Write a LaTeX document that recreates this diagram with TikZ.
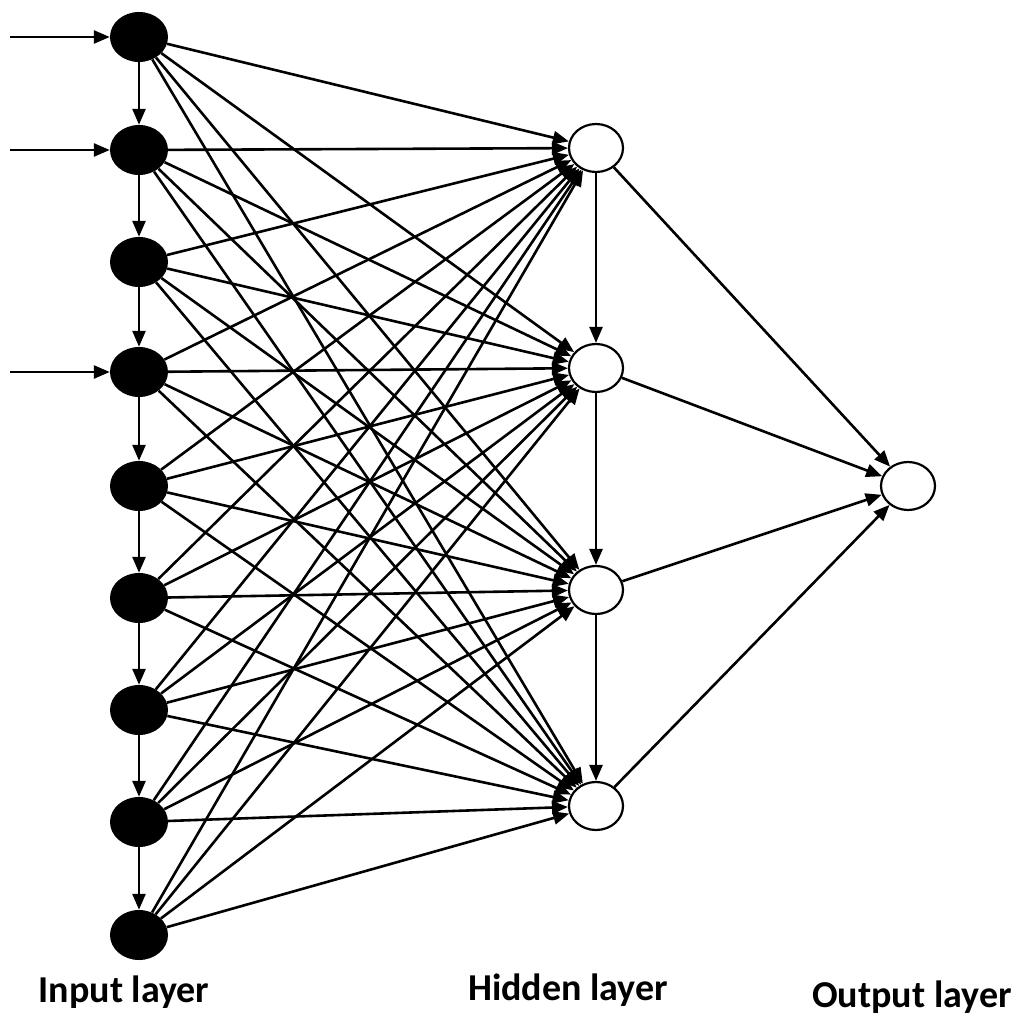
\documentclass[tikz,border=0pt]{standalone}
\usetikzlibrary{arrows.meta,shapes.geometric}
\usepackage{fontspec}
\setmainfont{Carlito}
\begin{document}
\begin{tikzpicture}[x=1pt,y=-1pt,
 inp/.style={ellipse,fill=black,minimum width=58pt,minimum height=50pt,inner sep=0},
 hid/.style={ellipse,draw,line width=2.2pt,fill=white,minimum width=54pt,minimum height=48pt,inner sep=0},
 arr/.style={line width=2.6pt,-{Triangle[length=16pt,width=13pt]}},
 lab/.style={font=\bfseries\fontsize{38}{44}\selectfont}]
\useasboundingbox (0,0) rectangle (1024,1024);
\foreach \y [count=\i] in {37,150,262,372,486,598,710,822,935}
  \node[inp] (i\i) at (139,\y) {};
\foreach \y [count=\j] in {148,368,590,806}
  \node[hid] (h\j) at (596,\y) {};
\node[hid] (o) at (908,486) {};
\foreach \i in {1,...,9}\foreach \j in {1,...,4}
  \draw[arr] (i\i) -- (h\j);
\foreach \i [evaluate=\i as \k using int(\i+1)] in {1,...,8}
  \draw[arr] (i\i) -- (i\k);
\foreach \j [evaluate=\j as \k using int(\j+1)] in {1,2,3}
  \draw[arr] (h\j) -- (h\k);
\foreach \j in {1,...,4} \draw[arr] (h\j) -- (o);
\coordinate (a1) at (10,37);\coordinate (a2) at (10,150);\coordinate (a4) at (10,372);
\draw[arr] (a1) -- (i1); \draw[arr] (a2) -- (i2); \draw[arr] (a4) -- (i4);
\node[lab] (l1) at (124,992) {Input layer};
\node[lab] (l2) at (568,990) {Hidden layer};
\node[lab] (l3) at (912,997) {Output layer};
\end{tikzpicture}
\end{document}
